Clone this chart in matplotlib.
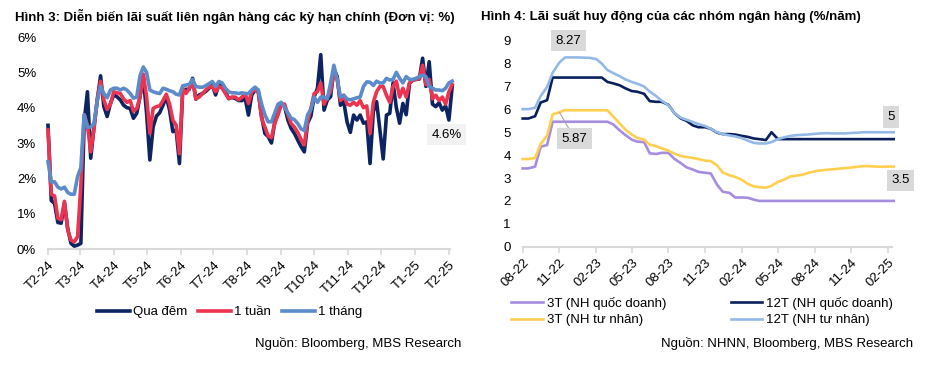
import matplotlib
matplotlib.use("Agg")
import matplotlib.pyplot as plt
import pandas as pd

plt.rcParams['font.family'] = ['Liberation Sans', 'DejaVu Sans']

# Hinh 3: lai suat lien ngan hang (%), every 3 days from 01/02/2024
ib_dates = pd.date_range('2024-02-01', periods=124, freq='3D')
qua_dem = [
    3.5, 1.37, 1.29, 0.75, 0.73, 1.3, 0.58, 0.16, 0.08, 0.11,
    0.16, 3.6, 4.45, 2.57, 3.46, 4.22, 4.9, 4.03, 3.75, 4.12,
    4.36, 4.31, 4.22, 4.07, 4.0, 3.98, 3.7, 3.84, 4.31, 4.88,
    3.84, 2.52, 3.46, 3.76, 3.86, 4.07, 4.31, 3.93, 3.32, 3.37,
    2.42, 4.5, 4.52, 4.52, 4.83, 4.24, 4.36, 4.4, 4.46, 4.55,
    4.64, 4.36, 4.66, 4.61, 4.45, 4.26, 4.29, 4.26, 4.2, 4.2,
    4.26, 3.79, 4.36, 4.5, 4.45, 3.75, 3.27, 3.18, 3.0, 3.6,
    3.84, 4.12, 4.03, 3.65, 3.41, 3.27, 3.08, 2.9, 2.75, 3.56,
    3.76, 4.31, 4.55, 5.5, 3.93, 4.22, 4.31, 5.1, 4.88, 4.07,
    4.17, 3.6, 3.3, 3.79, 3.65, 3.79, 3.56, 3.6, 2.42, 3.89,
    4.17, 3.37, 2.55, 3.79, 3.84, 4.7, 4.0, 3.56, 4.12, 3.8,
    4.69, 4.78, 4.8, 4.81, 5.4, 4.6, 5.3, 4.1, 4.03, 4.14,
    3.93, 4.05, 3.65, 4.6]
mot_tuan = [
    3.37, 1.55, 1.5, 0.87, 0.83, 1.35, 0.54, 0.25, 0.2, 0.35,
    1.8, 3.8, 3.5, 2.75, 3.4, 4.25, 4.75, 4.22, 3.95, 4.1,
    4.45, 4.42, 4.4, 4.25, 4.15, 4.2, 3.9, 3.98, 4.3, 4.95,
    4.31, 3.27, 3.98, 4.03, 4.05, 4.2, 4.38, 4.1, 3.65, 3.5,
    2.7, 4.55, 4.4, 4.55, 4.78, 4.25, 4.3, 4.4, 4.5, 4.58,
    4.6, 4.45, 4.6, 4.55, 4.4, 4.25, 4.3, 4.3, 4.22, 4.3,
    4.4, 4.12, 4.45, 4.5, 4.45, 3.7, 3.45, 3.2, 3.15, 3.55,
    3.8, 4.1, 4.1, 3.8, 3.55, 3.45, 3.3, 3.1, 2.95, 3.6,
    3.98, 4.4, 4.45, 4.7, 4.1, 4.3, 4.45, 5.0, 4.8, 4.2,
    4.35, 4.1, 4.07, 4.15, 4.07, 4.2, 4.0, 4.05, 3.27, 4.15,
    4.45, 4.6, 4.6, 4.35, 4.15, 4.6, 4.75, 4.3, 4.55, 4.3,
    4.7, 4.78, 4.8, 4.82, 5.2, 4.65, 4.8, 4.25, 4.35, 4.2,
    4.3, 4.1, 4.45, 4.65]
mot_thang = [
    2.47, 1.9, 1.9, 1.75, 1.7, 1.75, 1.6, 1.55, 1.55, 2.05,
    2.3, 3.8, 3.45, 3.45, 3.55, 4.2, 4.6, 4.4, 4.28, 4.5,
    4.55, 4.55, 4.5, 4.55, 4.5, 4.4, 4.27, 4.3, 4.9, 5.15,
    5.0, 4.5, 4.45, 4.42, 4.4, 4.55, 4.52, 4.48, 4.45, 4.38,
    4.36, 4.62, 4.64, 4.66, 4.8, 4.6, 4.58, 4.58, 4.62, 4.68,
    4.74, 4.6, 4.74, 4.7, 4.55, 4.45, 4.42, 4.42, 4.4, 4.42,
    4.4, 4.4, 4.5, 4.58, 4.5, 4.1, 3.8, 3.6, 3.6, 3.85,
    4.1, 4.15, 4.0, 3.85, 3.7, 3.66, 3.55, 3.4, 3.35, 3.8,
    3.95, 4.3, 4.15, 4.3, 4.3, 4.25, 4.7, 5.2, 4.8, 4.3,
    4.35, 4.25, 4.22, 4.25, 4.28, 4.3, 4.6, 4.73, 4.72, 4.63,
    4.75, 4.7, 4.7, 4.83, 4.78, 4.8, 5.0, 4.83, 4.7, 4.88,
    4.8, 4.8, 4.83, 4.88, 4.92, 4.88, 4.6, 4.55, 4.5, 4.5,
    4.48, 4.55, 4.7, 4.75]
ib_ticks = pd.date_range('2024-02-01', '2025-02-01', freq='MS')
ib_tick_labels = ['T2-24', 'T3-24', 'T4-24', 'T5-24', 'T6-24', 'T7-24', 'T8-24',
                  'T9-24', 'T10-24', 'T11-24', 'T12-24', 'T1-25', 'T2-25']

# Hinh 4: lai suat huy dong (%/nam), semi-monthly from 08/2022
dep_dates = pd.date_range('2022-08-01', periods=62, freq='SMS')
qd_3t = [
    3.42, 3.42, 3.5, 4.37, 4.44, 5.46, 5.46, 5.46, 5.46, 5.46,
    5.46, 5.46, 5.46, 5.46, 5.46, 5.35, 5.08, 4.88, 4.68, 4.59,
    4.57, 4.08, 4.05, 4.1, 4.1, 3.85, 3.65, 3.47, 3.37, 3.27,
    3.23, 3.2, 2.7, 2.4, 2.35, 2.15, 2.15, 2.14, 2.06, 2.0,
    2.0, 2.0, 2.0, 2.0, 2.0, 2.0, 2.0, 2.0, 2.0, 2.0,
    2.0, 2.0, 2.0, 2.0, 2.0, 2.0, 2.0, 2.0, 2.0, 2.0,
    2.0, 2.0]
qd_12t = [
    5.6, 5.6, 5.7, 6.3, 6.4, 7.39, 7.39, 7.39, 7.39, 7.39,
    7.39, 7.39, 7.39, 7.39, 7.2, 7.14, 7.05, 6.92, 6.8, 6.77,
    6.68, 6.36, 6.33, 6.33, 6.2, 5.85, 5.6, 5.5, 5.3, 5.22,
    5.22, 5.15, 4.98, 4.92, 4.92, 4.9, 4.84, 4.8, 4.73, 4.7,
    4.66, 5.0, 4.7, 4.7, 4.7, 4.7, 4.7, 4.7, 4.7, 4.7,
    4.7, 4.7, 4.7, 4.7, 4.7, 4.7, 4.7, 4.7, 4.7, 4.7,
    4.7, 4.7]
tn_3t = [
    3.83, 3.83, 3.88, 4.49, 4.85, 5.78, 5.87, 5.97, 5.96, 5.96,
    5.96, 5.96, 5.96, 5.96, 5.96, 5.7, 5.38, 5.12, 4.9, 4.75,
    4.68, 4.46, 4.39, 4.3, 4.2, 4.07, 3.96, 3.92, 3.88, 3.83,
    3.76, 3.74, 3.55, 3.24, 3.12, 3.05, 2.92, 2.75, 2.64, 2.6,
    2.58, 2.66, 2.83, 2.92, 3.07, 3.1, 3.14, 3.22, 3.29, 3.33,
    3.36, 3.38, 3.41, 3.43, 3.46, 3.49, 3.52, 3.52, 3.5, 3.49,
    3.5, 3.5]
tn_12t = [
    6.01, 6.01, 6.07, 6.58, 6.98, 7.6, 8.05, 8.27, 8.27, 8.27,
    8.26, 8.25, 8.2, 8.0, 7.72, 7.59, 7.45, 7.31, 7.2, 7.12,
    7.0, 6.78, 6.58, 6.38, 6.18, 5.85, 5.63, 5.55, 5.45, 5.36,
    5.27, 5.15, 5.0, 4.92, 4.86, 4.82, 4.74, 4.64, 4.54, 4.51,
    4.51, 4.57, 4.7, 4.77, 4.84, 4.87, 4.89, 4.9, 4.93, 4.95,
    4.96, 4.95, 4.95, 4.95, 4.97, 4.98, 5.0, 5.0, 5.0, 5.0,
    5.0, 5.0]
dep_ticks = pd.date_range('2022-08-01', '2025-02-01', freq='3MS')
dep_tick_labels = ['08-22', '11-22', '02-23', '05-23', '08-23', '11-23',
                   '02-24', '05-24', '08-24', '11-24', '02-25']

W, H = 928, 382
FS = 9.5
GRID = '#d9d9d9'


def px_box(left, top, right, bottom):
    return [left / W, 1 - bottom / H, (right - left) / W, (bottom - top) / H]


def style_axis(ax):
    for s in ['top', 'right', 'left']:
        ax.spines[s].set_visible(False)
    ax.spines['bottom'].set_color(GRID)
    ax.spines['bottom'].set_linewidth(1.5)
    ax.tick_params(axis='y', length=0, pad=8.5, labelsize=FS)
    ax.tick_params(axis='x', length=4, width=1.2, color=GRID, pad=3, labelsize=FS)
    for lab in ax.get_xticklabels():
        lab.set_rotation(45)
        lab.set_ha('right')
        lab.set_rotation_mode('anchor')
    ax.patch.set_alpha(0)


fig = plt.figure(figsize=(W / 100, H / 100), dpi=100)

# ---- Hinh 3 ----
ax1 = fig.add_axes(px_box(48, 37, 450, 249))
ax1.plot(ib_dates, qua_dem, color='#0c2461', lw=2.6, label='Qua đêm', clip_on=False)
ax1.plot(ib_dates, mot_tuan, color='#ec3350', lw=2.6, label='1 tuần', clip_on=False)
ax1.plot(ib_dates, mot_thang, color='#5b8bc9', lw=2.6, label='1 tháng', clip_on=False)
ax1.set_ylim(0, 6)
ax1.set_xlim(pd.Timestamp('2024-02-01'), pd.Timestamp('2025-02-02'))
ax1.set_yticks(range(7))
ax1.set_yticklabels([f'{v}%' for v in range(7)])
ax1.set_xticks(ib_ticks)
ax1.set_xticklabels(ib_tick_labels)
style_axis(ax1)
ax1.annotate('4.6%', xy=(ib_dates[-1], mot_tuan[-1]), xytext=(-4, -36),
             textcoords='offset points', ha='center', va='center', fontsize=FS,
             annotation_clip=False,
             bbox=dict(boxstyle='square,pad=0.35', fc='#f2f2f2', ec='none'))
ax1.legend(loc='upper left', bbox_to_anchor=(97 / W, 1 - 306 / H),
           bbox_transform=fig.transFigure, ncol=3, frameon=False, fontsize=FS,
           handlelength=2.5, handletextpad=0.25, columnspacing=0.8,
           borderpad=0, borderaxespad=0)
fig.text(15 / W, 1 - 16 / H,
         'Hình 3: Diễn biến lãi suất liên ngân hàng các kỳ hạn chính (Đơn vị: %)',
         fontsize=9.5, fontweight='bold', va='center', ha='left')
fig.text(461 / W, 1 - 343 / H, 'Nguồn: Bloomberg, MBS Research',
         fontsize=FS, ha='right', va='center')

# ---- Hinh 4 ----
ax2 = fig.add_axes(px_box(522.7, 40.7, 891.7, 246.7))
l_qd3, = ax2.plot(dep_dates, qd_3t, color='#a58de0', lw=1.9, clip_on=False)
l_tn3, = ax2.plot(dep_dates, tn_3t, color='#ffcf4f', lw=1.9, clip_on=False)
l_qd12, = ax2.plot(dep_dates, qd_12t, color='#0a1f5c', lw=1.9, clip_on=False)
l_tn12, = ax2.plot(dep_dates, tn_12t, color='#95b9e6', lw=1.9, clip_on=False)
ax2.set_ylim(0, 9)
ax2.set_xlim(pd.Timestamp('2022-08-01'), pd.Timestamp('2025-02-10'))
ax2.set_yticks(range(10))
ax2.set_xticks(dep_ticks)
ax2.set_xticklabels(dep_tick_labels)
style_axis(ax2)

box_grey = dict(boxstyle='square,pad=0.35', fc='#d9d9d9', ec='none')
ax2.annotate('8.27', xy=(dep_dates[8], tn_12t[8]), xytext=(-2, 12),
             textcoords='offset points', ha='center', va='center', fontsize=FS, bbox=box_grey)
ax2.annotate('5.87', xy=(dep_dates[6], tn_3t[6]), xytext=(11, -19),
             textcoords='offset points', ha='center', va='center', fontsize=FS, bbox=box_grey,
             arrowprops=dict(arrowstyle='-', color='#a6a6a6', lw=0.8, shrinkA=0, shrinkB=0))
ax2.annotate('5', xy=(dep_dates[-1], tn_12t[-1]), xytext=(-2, 11),
             textcoords='offset points', ha='center', va='center', fontsize=FS,
             annotation_clip=False, bbox=box_grey)
ax2.annotate('3.5', xy=(dep_dates[-1], tn_3t[-1]), xytext=(5, -10),
             textcoords='offset points', ha='center', va='center', fontsize=FS,
             annotation_clip=False, bbox=box_grey)

ax2.legend([l_qd3, l_tn3, l_qd12, l_tn12],
           ['3T (NH quốc doanh)', '3T (NH tư nhân)', '12T (NH quốc doanh)', '12T (NH tư nhân)'],
           loc='upper left', bbox_to_anchor=(511 / W, 1 - 297 / H),
           bbox_transform=fig.transFigure, ncol=2, frameon=False, fontsize=FS,
           handlelength=2.4, handletextpad=0.3, columnspacing=4.9,
           labelspacing=0.3, borderpad=0, borderaxespad=0)
fig.text(481 / W, 1 - 16 / H,
         'Hình 4: Lãi suất huy động của các nhóm ngân hàng (%/năm)',
         fontsize=9.5, fontweight='bold', va='center', ha='left')
fig.text(913 / W, 1 - 343 / H, 'Nguồn: NHNN, Bloomberg, MBS Research',
         fontsize=FS, ha='right', va='center')

fig.savefig('out.png', dpi=100, facecolor='white')
